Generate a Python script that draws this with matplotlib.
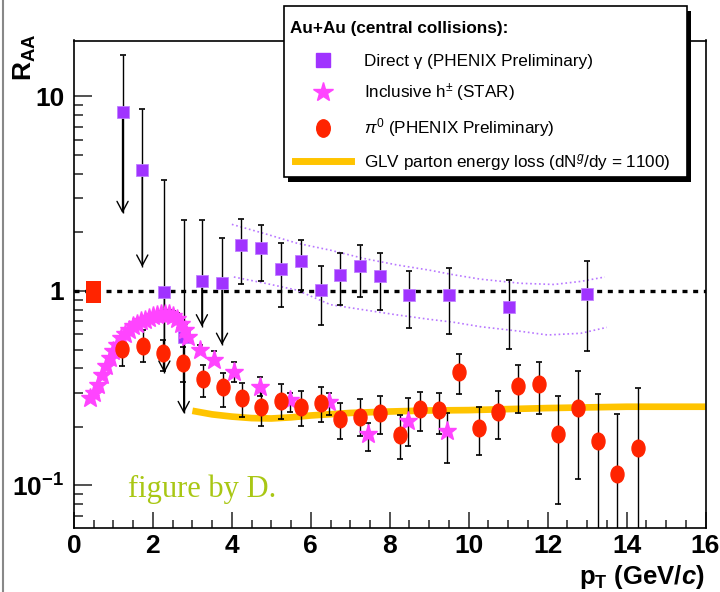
import matplotlib
matplotlib.use("Agg")
import matplotlib.pyplot as plt
from matplotlib.lines import Line2D
from matplotlib.patches import Rectangle
from matplotlib.path import Path
import numpy as np

plt.rcParams['font.family'] = ['Liberation Sans', 'DejaVu Sans']
plt.rcParams['mathtext.fontset'] = 'custom'
plt.rcParams['mathtext.rm'] = 'Liberation Sans'
plt.rcParams['mathtext.it'] = 'Liberation Sans:italic'
plt.rcParams['mathtext.bf'] = 'Liberation Sans:bold'
plt.rcParams['mathtext.bfit'] = 'Liberation Sans:bold:italic'

# direct photons (PHENIX prelim) - upper limits at low pT
lim_x = [1.23, 1.73, 2.29, 2.78, 3.24, 3.75]
lim_y = [8.35, 4.19, 0.985, 0.58, 1.125, 1.095]
lim_top = [16.3, 8.62, 3.71, 2.32, 2.32, 1.87]
lim_tip = [2.51, 1.33, 0.379, 0.235, 0.656, 0.527]

# direct photons with errors
gam_x = [4.24, 4.75, 5.24, 5.74, 6.25, 6.74, 7.25, 7.76, 8.49, 9.51, 11.02, 13.0]
gam_y = [1.72, 1.67, 1.30, 1.42, 1.01, 1.21, 1.34, 1.19, 0.957, 0.957, 0.827, 0.969]
gam_hi = [2.34, 2.19, 1.76, 1.83, 1.34, 1.56, 1.73, 1.56, 1.26, 1.31, 1.14, 1.43]
gam_lo = [1.08, 1.12, 0.83, 1.01, 0.666, 0.844, 0.935, 0.796, 0.648, 0.603, 0.505, 0.491]

# systematic band (dotted)
band_up_x = [4.0, 4.8, 5.65, 6.5, 7.34, 8.19, 9.0, 9.63, 10.3, 11.32, 12.16, 12.84, 13.45]
band_up_y = [2.2, 1.98, 1.76, 1.62, 1.47, 1.36, 1.28, 1.21, 1.15, 1.095, 1.08, 1.12, 1.18]
band_lo_x = [4.05, 4.8, 5.65, 6.5, 7.34, 8.19, 9.0, 9.63, 10.3, 11.32, 12.0, 12.84, 13.5]
band_lo_y = [1.18, 1.10, 1.01, 0.85, 0.80, 0.753, 0.715, 0.69, 0.655, 0.62, 0.594, 0.606, 0.65]

# inclusive h+- (STAR)
had_x = [0.4, 0.5, 0.6, 0.7, 0.8, 0.9, 1.0, 1.1, 1.2, 1.3, 1.4, 1.5, 1.6, 1.7, 1.8, 1.9,
         2.0, 2.1, 2.2, 2.3, 2.4, 2.5, 2.6, 2.7, 2.8, 2.9, 3.2, 3.55, 4.05, 4.7, 5.48,
         6.45, 7.45, 8.45, 9.45]
had_y = [0.28, 0.30, 0.33, 0.37, 0.41, 0.45, 0.49, 0.53, 0.57, 0.60, 0.63, 0.66, 0.68, 0.70,
         0.71, 0.73, 0.74, 0.75, 0.76, 0.76, 0.76, 0.74, 0.72, 0.68, 0.63, 0.58, 0.50, 0.44,
         0.385, 0.32, 0.275, 0.27, 0.185, 0.215, 0.19]
had_hi = [0.28, 0.30, 0.33, 0.37, 0.41, 0.45, 0.49, 0.53, 0.57, 0.60, 0.63, 0.66, 0.68, 0.70,
          0.71, 0.73, 0.74, 0.75, 0.79, 0.80, 0.80, 0.79, 0.77, 0.73, 0.68, 0.62, 0.53, 0.49,
          0.43, 0.36, 0.30, 0.30, 0.21, 0.28, 0.235]
had_lo = [0.28, 0.30, 0.33, 0.37, 0.41, 0.45, 0.49, 0.53, 0.57, 0.60, 0.63, 0.66, 0.68, 0.70,
          0.71, 0.73, 0.74, 0.75, 0.76, 0.76, 0.76, 0.74, 0.72, 0.68, 0.63, 0.58, 0.50, 0.44,
          0.34, 0.29, 0.24, 0.23, 0.15, 0.16, 0.13]

# pi0 (PHENIX prelim)
pi0_x = [1.21, 1.74, 2.25, 2.75, 3.26, 3.77, 4.25, 4.75, 5.24, 5.74, 6.25, 6.74, 7.25, 7.76,
         8.25, 8.76, 9.25, 9.75, 10.27, 10.75, 11.26, 11.77, 12.26, 12.77, 13.27, 13.77, 14.28]
pi0_y = [0.502, 0.522, 0.482, 0.424, 0.353, 0.322, 0.282, 0.252, 0.272, 0.252, 0.267, 0.219,
         0.225, 0.237, 0.182, 0.247, 0.245, 0.383, 0.197, 0.240, 0.326, 0.331, 0.183, 0.249,
         0.170, 0.115, 0.155]
pi0_hi = [0.582, 0.63, 0.56, 0.517, 0.417, 0.38, 0.335, 0.304, 0.331, 0.306, 0.321, 0.267,
          0.277, 0.289, 0.229, 0.304, 0.299, 0.476, 0.254, 0.307, 0.418, 0.430, 0.289, 0.389,
          0.294, 0.233, 0.318]
pi0_lo = [0.411, 0.43, 0.39, 0.34, 0.284, 0.254, 0.226, 0.203, 0.219, 0.201, 0.212, 0.174,
          0.179, 0.184, 0.137, 0.191, 0.184, 0.294, 0.144, 0.174, 0.237, 0.232, 0.080, 0.108,
          0.01, 0.01, 0.01]

# GLV curve
glv_x = [3.0, 3.5, 4.0, 4.5, 5.0, 5.5, 6.0, 7.0, 8.0, 9.0, 10.0, 11.0, 12.0, 13.0, 14.0, 16.0]
glv_y = [0.242, 0.232, 0.226, 0.222, 0.221, 0.224, 0.229, 0.236, 0.240, 0.243, 0.244, 0.247,
         0.250, 0.252, 0.254, 0.254]

# normalization box at 1
norm_x = [0.3, 0.69]
norm_lo = [0.865, 0.865]
norm_hi = [1.13, 1.13]

purple = '#a033ff'
magenta = '#ff44ff'
red = '#ff2400'
yellow = '#ffc400'

circ = Path.unit_circle()
ellipse = Path(circ.vertices * [0.78, 1.0], circ.codes)

fig = plt.figure(figsize=(7.2, 5.92), dpi=100)
ax = fig.add_axes([74/720, 1 - 527.5/592, (705.5 - 74)/720, (527.5 - 40.5)/592])
ax.set_yscale('log')
ax.set_xlim(0, 16)
ax.set_ylim(0.0608, 19.4)

ax.axhline(1, color='black', lw=2.4, ls=(0, (1.5, 1.7)), zorder=2)
ax.fill_between(norm_x, norm_lo, norm_hi, color=red, lw=0, zorder=3)

ax.plot(band_up_x, band_up_y, color='#b877ff', lw=1.2, ls=':', zorder=2)
ax.plot(band_lo_x, band_lo_y, color='#b877ff', lw=1.2, ls=':', zorder=2)

ax.plot(glv_x, glv_y, color=yellow, lw=4.8, solid_capstyle='butt', zorder=2)

# upper limits
ax.vlines(lim_x, lim_tip, lim_top, color='black', lw=1, zorder=3)
ax.plot(lim_x, lim_top, ls='none', marker='_', ms=4, mew=1.2, color='black', zorder=3)
for x, y, tip in zip(lim_x, lim_y, lim_tip):
    ax.annotate('', xy=(x, tip), xytext=(x, y),
                arrowprops=dict(arrowstyle='->,head_length=0.75,head_width=0.4',
                                lw=1, color='black', shrinkA=0, shrinkB=0), zorder=3)

g_y = np.array(gam_y)
ax.errorbar(gam_x, gam_y, yerr=[g_y - np.array(gam_lo), np.array(gam_hi) - g_y],
            fmt='none', ecolor='black', elinewidth=1, capsize=2.5, capthick=1.2, zorder=3)
h_y = np.array(had_y)
ax.errorbar(had_x, had_y, yerr=[h_y - np.array(had_lo), np.array(had_hi) - h_y],
            fmt='none', ecolor='black', elinewidth=1, capsize=2.5, capthick=1.2, zorder=3)
p_y = np.array(pi0_y)
ax.errorbar(pi0_x, pi0_y, yerr=[p_y - np.array(pi0_lo), np.array(pi0_hi) - p_y],
            fmt='none', ecolor='black', elinewidth=1, capsize=2.5, capthick=1.2, zorder=3)

ax.plot(lim_x, lim_y, ls='none', marker='s', ms=9, color=purple, mec='#c080ff', mew=0.6, zorder=4)
ax.plot(gam_x, gam_y, ls='none', marker='s', ms=9, color=purple, mec='#c080ff', mew=0.6, zorder=4)
ax.plot(had_x, had_y, ls='none', marker='*', ms=14, color=magenta, mec=magenta, zorder=5)
ax.plot(pi0_x, pi0_y, ls='none', marker=ellipse, ms=12, color=red, mec=red, zorder=6)

ax.text(1.37, 0.0872, 'figure by D.', family='Liberation Serif', fontsize=22,
        color='#a9c714', va='baseline', ha='left', zorder=7)

ax.set_xticks(np.arange(0, 17, 2))
ax.set_xticks(np.arange(0, 16.01, 0.5), minor=True)
ax.set_yticks([0.1, 1, 10], labels=[r'$\mathbf{10^{-1}}$', '1', '10'])
ax.tick_params(which='both', direction='in', top=False, right=False, width=1.1, color='#222222')
ax.tick_params(which='major', axis='x', length=11.5, pad=5, labelsize=19)
ax.tick_params(which='minor', axis='x', length=5.8)
ax.tick_params(which='major', axis='y', length=12.7, pad=7, labelsize=19)
ax.tick_params(which='minor', axis='y', length=6.3, labelleft=False)
for lab in ax.get_xticklabels() + ax.get_yticklabels():
    lab.set_fontweight('bold')
for s in ax.spines.values():
    s.set_linewidth(1.2)

fig.text(25/720, 1 - 57/592, r'$\mathbf{R_{AA}}$', rotation=90, fontsize=19,
         ha='center', va='center')
fig.text(705/720, 1 - 577/592, r'$\mathbf{p_T\ (GeV/}\mathbfit{c}\mathbf{)}$', fontsize=18.5,
         ha='right', va='center')

fig.add_artist(Line2D([3/720, 3/720], [0, 1], color='#888888', lw=1.5,
                      transform=fig.transFigure))

# legend box with black shadow
fig.add_artist(Rectangle((287.7/720, 1 - 182/592), 403.3/720, 171.3/592,
                         facecolor='black', lw=0, transform=fig.transFigure, zorder=3))
fig.add_artist(Rectangle((284/720, 1 - 177/592), 403.3/720, 171.3/592,
                         facecolor='white', edgecolor='black', lw=1.2,
                         transform=fig.transFigure, zorder=4))
fig.text(290/720, 1 - 28/592, 'Au+Au (central collisions):', fontsize=12.3,
         fontweight='bold', ha='left', va='center', zorder=6)

handles = [Line2D([], [], ls='none', marker='s', ms=10, color=purple),
           Line2D([], [], ls='none', marker='*', ms=15, color=magenta),
           Line2D([], [], ls='none', marker=ellipse, ms=12.5, color=red),
           Line2D([], [], color=yellow, lw=5)]
labels = [u'Direct γ (PHENIX Preliminary)',
          r'Inclusive h$^{\pm}$ (STAR)',
          r'$\pi^0$ (PHENIX Preliminary)',
          r'GLV parton energy loss (dN$^g$/dy = 1100)']
leg = fig.legend(handles, labels, loc='upper left',
                 bbox_to_anchor=(294.6/720, 1 - 54/592),
                 borderaxespad=0, borderpad=0, fontsize=12.3, frameon=False,
                 handlelength=3.3, handletextpad=0.79, labelspacing=0.74)
leg.set_zorder(6)

fig.savefig('out.png', dpi=100)
